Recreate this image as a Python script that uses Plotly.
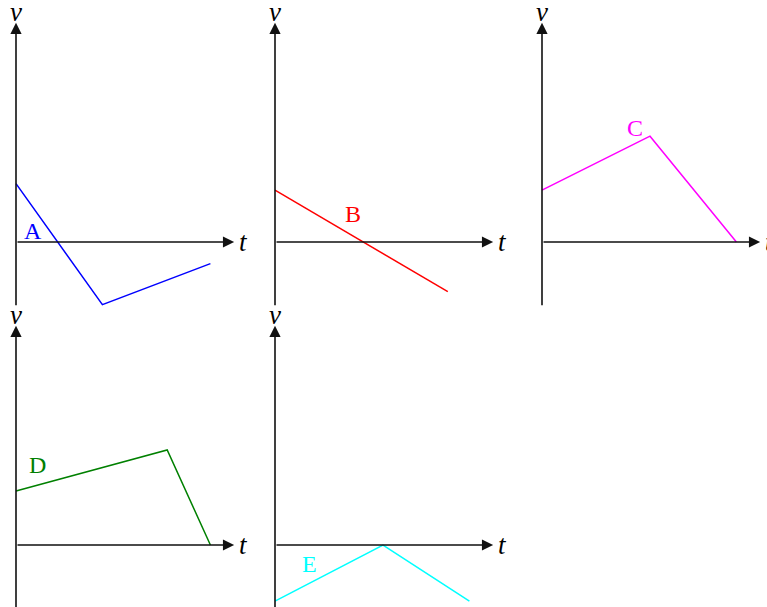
import plotly.graph_objects as go

# velocity-time graphs, one per object (t and v in arbitrary units)
names = ["A", "B", "C", "D", "E"]
colors = ["#0000ff", "#ff0000", "#ff00ff", "#008000", "#00ffff"]

t_A = [0, 4.0, 9.0]
v_A = [2.7, -2.9, -1.0]
t_B = [0, 8.0]
v_B = [2.4, -2.3]
t_C = [0, 5.0, 9.0]
v_C = [2.4, 4.9, 0]
t_D = [0, 7.0, 9.0]
v_D = [2.5, 4.4, 0]
t_E = [0, 5.0, 9.0]
v_E = [-2.6, 0, -2.6]

label_t = [0.8, 3.6, 4.3, 1.0, 1.6]
label_v = [0.5, 1.3, 5.3, 3.7, -0.9]

t_axis = [0, 10.1]
v_axis = [-3.0, 10.15]

series = [(t_A, v_A), (t_B, v_B), (t_C, v_C), (t_D, v_D), (t_E, v_E)]

W, H = 767, 607
S = 21.6  # px per unit
# origin pixel of each panel and its pixel box (x0, x1, y0, y1)
origins = [(16, 242), (275, 242), (542, 242), (16, 545), (275, 545)]
boxes = [(0, 258, 0, 306), (258, 520, 0, 306), (520, 767, 0, 306),
         (0, 258, 306, 607), (258, 520, 306, 607)]

fig = go.Figure()
annotations = []
serif = "Liberation Serif, Times New Roman, serif"
axis_font = dict(family=serif, size=27, color="black")
lab_font = dict(family=serif, size=24)

for i, (t, v) in enumerate(series):
    n = "" if i == 0 else str(i + 1)
    xr, yr = "x" + n, "y" + n
    ox, oy = origins[i]
    x0, x1, y0, y1 = boxes[i]
    fig.add_trace(go.Scatter(x=t, y=v, mode="lines", xaxis=xr, yaxis=yr,
                             line=dict(color=colors[i], width=1.5),
                             hoverinfo="skip", cliponaxis=False))
    fig.update_layout(**{
        "xaxis" + n: dict(domain=[x0 / W, x1 / W], range=[(x0 - ox) / S, (x1 - ox) / S],
                          visible=False, anchor=yr),
        "yaxis" + n: dict(domain=[1 - y1 / H, 1 - y0 / H], range=[(oy - y1) / S, (oy - y0) / S],
                          visible=False, anchor=xr),
    })
    # axes with arrows
    annotations.append(dict(x=t_axis[1], y=0, ax=t_axis[0], ay=0, xref=xr, yref=yr,
                            axref=xr, ayref=yr, showarrow=True, arrowhead=2,
                            arrowsize=1.4, arrowwidth=1.6, arrowcolor="#111", text=""))
    annotations.append(dict(x=0, y=v_axis[1], ax=0, ay=v_axis[0], xref=xr, yref=yr,
                            axref=xr, ayref=yr, showarrow=True, arrowhead=2,
                            arrowsize=1.4, arrowwidth=1.6, arrowcolor="#111", text=""))
    annotations.append(dict(x=0, y=v_axis[1] + 0.5, xref=xr, yref=yr, text="<i>v</i>",
                            showarrow=False, font=axis_font))
    annotations.append(dict(x=t_axis[1] + 0.12, y=0, xref=xr, yref=yr, text="<i>t</i>",
                            xanchor="left", showarrow=False, font=axis_font))
    annotations.append(dict(x=label_t[i], y=label_v[i], xref=xr, yref=yr, text=names[i],
                            showarrow=False, font=dict(lab_font, color=colors[i])))

fig.update_layout(width=W, height=H, margin=dict(l=0, r=0, t=0, b=0),
                  plot_bgcolor="white", paper_bgcolor="white",
                  showlegend=False, annotations=annotations)

# drop the page's default body margin so the figure sits at the window corner
fig.write_html("out.html", config={"displayModeBar": False},
               post_script="document.body.style.margin='0';")
